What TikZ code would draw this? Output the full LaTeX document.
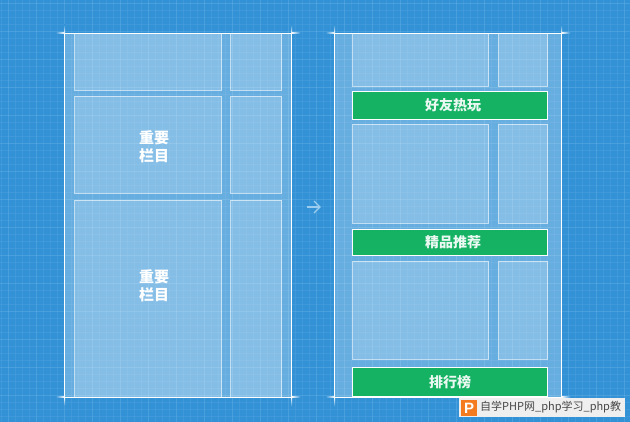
\documentclass[tikz,border=0pt]{standalone}
\usepackage{fontspec}
\setmainfont{Noto Sans CJK SC}
\setsansfont{Liberation Sans}
\definecolor{bluebg}{HTML}{3392D6}
\definecolor{gridc}{HTML}{6DB4E6}
\definecolor{greenb}{HTML}{15B263}
\definecolor{arrowc}{HTML}{9CCDEE}
\definecolor{wmbg}{HTML}{EFEFEF}
\definecolor{wmor}{HTML}{F47B20}
\tikzset{
  x=1pt,y=-1pt,
  panel/.style={fill=white,fill opacity=.25,draw=none},
  tick/.style={draw=white,line width=1pt},
  slot/.style={fill=white,fill opacity=.20,draw=white,draw opacity=.6,line width=1pt},
  greenbar/.style={fill=greenb,draw=white,line width=1pt,minimum width=195pt,inner sep=0pt},
  barlab/.style={text=white!92!greenb,font=\bfseries\fontsize{14}{14}\selectfont,inner sep=0pt},
  lab/.style={text=white,font=\bfseries\fontsize{15}{18}\selectfont,align=center,inner sep=0pt},
  minorline/.style={gridc,opacity=.20,line width=1pt},
  majorline/.style={gridc,opacity=.25,line width=1pt},
}
\newcommand{\bx}[6]{\path[#6] (#2,#3) rectangle (#4,#5) node[midway,inner sep=0pt,opacity=1] (#1) {};}
\begin{document}
\begin{tikzpicture}
\useasboundingbox (0,0) rectangle (630,422);
\fill[bluebg] (0,0) rectangle (630,422);
% grid
\foreach \i in {0,...,90} \draw[minorline] ({\i*7+1},0) -- ({\i*7+1},422);
\foreach \i in {0,...,60} \draw[minorline] (0,{\i*7+4}) -- (630,{\i*7+4});
\foreach \i in {0,...,22} \draw[majorline] ({\i*28+8},0) -- ({\i*28+8},422);
\foreach \i in {0,...,15} \draw[majorline] (0,{\i*28+4}) -- (630,{\i*28+4});
% panels
\bx{pl}{64.5}{33.5}{291.5}{397.5}{panel}
\bx{pr}{334.5}{33.5}{561.5}{397.5}{panel}
% left slots
\bx{a1}{74.5}{33.5}{221.5}{90.5}{slot}
\bx{a2}{230.5}{33.5}{281.5}{90.5}{slot}
\bx{a3}{74.5}{96.5}{221.5}{193.5}{slot}
\bx{a4}{230.5}{96.5}{281.5}{193.5}{slot}
\bx{a5}{74.5}{200.5}{221.5}{397.5}{slot}
\bx{a6}{230.5}{200.5}{281.5}{397.5}{slot}
% right slots
\bx{b1}{352.5}{33.5}{488.5}{86.5}{slot}
\bx{b2}{498.5}{33.5}{547.5}{86.5}{slot}
\bx{b3}{352.5}{124.5}{488.5}{223.5}{slot}
\bx{b4}{498.5}{124.5}{547.5}{223.5}{slot}
\bx{b5}{352.5}{261.5}{488.5}{359.5}{slot}
\bx{b6}{498.5}{261.5}{547.5}{359.5}{slot}
% green bars
\node[greenbar,minimum height=28pt] (g1) at (450,105.5) {};
\node[greenbar,minimum height=26pt] (g2) at (450,242.5) {};
\node[greenbar,minimum height=29pt] (g3) at (450,382.5) {};
\node[barlab] (t1) at (453,105) {好友热玩};
\node[barlab] (t2) at (453,242) {精品推荐};
\node[barlab] (t3) at (450,382) {排行榜};
% frames
\foreach \xa/\xb in {64.5/291.5,334.5/561.5} {
  \draw[tick] (\xa,33.5) -- (\xb,33.5);
  \draw[tick] (\xa,397.5) -- (\xb,397.5);
  \draw[tick] (\xa,33.5) -- (\xa,397.5);
  \draw[tick] (\xb,33.5) -- (\xb,397.5);
  \foreach \yy in {33.5,397.5} {
    \shade[left color=bluebg,right color=white] (\xa-9,\yy-.5) rectangle (\xa,\yy+.5);
    \shade[left color=white,right color=bluebg] (\xb,\yy-.5) rectangle (\xb+9,\yy+.5);
  }
  \foreach \xx in {\xa,\xb} {
    \shade[top color=bluebg,bottom color=white] (\xx-.5,24.5) rectangle (\xx+.5,33.5);
    \shade[top color=white,bottom color=bluebg] (\xx-.5,397.5) rectangle (\xx+.5,406.5);
  }
}
% labels
\node[lab] (l1) at (154,146.5) {重要\\栏目};
\node[lab] (l2) at (154,286) {重要\\栏目};
% arrow
\coordinate (as) at (307,207);
\coordinate (ae) at (320,207);
\draw[arrowc,line width=1.2pt] (as) -- (ae);
\draw[arrowc,line width=1.2pt] (314,201) -- (ae) -- (314,213);
% watermark
\fill[wmbg] (459,398) rectangle (625,417);
\fill[wmor] (461,400) rectangle (477,416);
\node[text=white,font=\sffamily\bfseries\fontsize{15}{15}\selectfont,inner sep=0pt] (wp) at (469,408) {P};
\node[anchor=west,inner sep=0pt,text=black!72,font=\fontsize{11}{11}\selectfont] (wt) at (480,407.5) {自学PHP网\_php学习\_php教};
\end{tikzpicture}
\end{document}
